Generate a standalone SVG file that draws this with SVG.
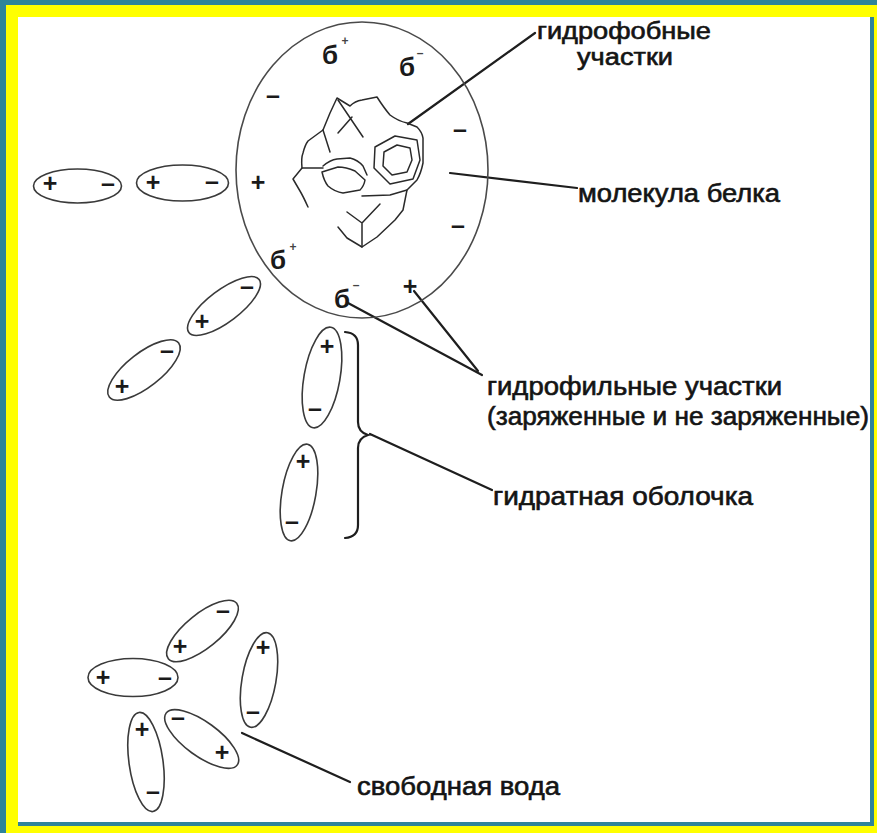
<svg xmlns="http://www.w3.org/2000/svg" width="877" height="833" viewBox="0 0 877 833">
  <style>
    .lbl { font-family: "Liberation Sans", Arial, sans-serif; font-size: 25px; fill: #141414; stroke: #141414; stroke-width: 0.6; }
    .sm { font-size: 23px; }
    .sg { font-family: "Liberation Sans", Arial, sans-serif; font-size: 25px; font-weight: bold; fill: #1a1a1a; text-anchor: middle; }
    .dl { font-family: "Liberation Sans", Arial, sans-serif; font-size: 26px; font-weight: bold; fill: #1a1a1a; text-anchor: middle; }
    .sup { font-family: "Liberation Sans", Arial, sans-serif; font-size: 12px; font-weight: bold; fill: #444; text-anchor: middle; }
    .dip { fill: none; stroke: #3a3a3a; stroke-width: 1.6; }
    .ln { fill: none; stroke: #1e1e1e; stroke-width: 2.2; stroke-linecap: round; }
    .prot { fill: none; stroke: #2a2a2a; stroke-width: 1.5; stroke-linejoin: round; stroke-linecap: round; }
  </style>

  <!-- frame -->
  <rect x="0" y="0" width="877" height="833" fill="#2e849a"/>
  <rect x="6" y="5" width="871" height="828" fill="#ffff00"/>
  <rect x="18" y="17" width="856" height="809" fill="#2e849a"/>
  <rect x="18" y="17" width="852" height="805" fill="#ffffff"/>

  <!-- connectors -->
  <g id="connectors">
    <line class="ln" x1="535" y1="33" x2="408" y2="124"/>
    <line class="ln" x1="450" y1="173" x2="577" y2="188"/>
    <line class="ln" x1="348" y1="303" x2="482" y2="375"/>
    <line class="ln" x1="414" y1="291" x2="478" y2="371"/>
    <line class="ln" x1="370" y1="434" x2="492" y2="490"/>
    <line class="ln" x1="242" y1="733" x2="350" y2="782"/>
  </g>

  <!-- protein molecule -->
  <g id="protein">
    <ellipse cx="362" cy="170" rx="126" ry="148" fill="none" stroke="#4a4a4a" stroke-width="1.6"/>
    <!-- folded chain -->
    <path class="prot" d="M308,207 Q303,196 300,191 L293,179 L302,168 Q301,158 303,153 Q305,145 308,141 L323,130 L330,113 L337,98 L350,106 Q355,101 362,100 L377,97 Q384,108 390,115 Q398,121 407,123 L417,127 Q422,132 423,138 L423,163 Q421,173 417,180 L407,190 L403,210 L395,220 L377,237 L362,247 L347,238 L338,227"/>
    <path class="prot" d="M338,100 L363,137 M352,117 L338,133 M323,130 L330,152 M302,168 L323,168"/>
    <path class="prot" d="M323,166 Q330,160 337,159 L350,158 Q358,160 363,166 L367,175"/>
    <path class="prot" d="M322,172 Q324,181 328,186 Q335,192 343,193 L360,190 Q364,186 365,180 L355,171 Q346,167 338,167 Z"/>
    <path class="prot" d="M375,147 L395,136 L417,140 L420,160 L413,179 L390,184 L374,168 Z"/>
    <path class="prot" d="M384,152 L397,145 L410,148 L412,160 L407,172 L392,175 L383,166 Z"/>
    <path class="prot" d="M407,190 L390,195 L362,196"/>
    <path class="prot" d="M347,212 L362,223 L380,204 M362,223 L362,247"/>
    <!-- surface charges -->
    <text class="dl" x="330" y="64">б</text><text class="sup" x="345" y="45">+</text>
    <text class="dl" x="407" y="76">б</text><text class="sup" x="420" y="57">–</text>
    <text class="dl" x="278" y="269">б</text><text class="sup" x="293" y="251">+</text>
    <text class="dl" x="342" y="308">б</text><text class="sup" x="356" y="289">–</text>
    <text class="sg" x="273" y="104">–</text>
    <text class="sg" x="460" y="138">–</text>
    <text class="sg" x="258" y="191">+</text>
    <text class="sg" x="458" y="234">–</text>
    <text class="sg" x="410" y="295">+</text>
  </g>

  <!-- oriented dipoles -->
  <g id="dipole-1">
    <ellipse class="dip" cx="77.5" cy="186" rx="44" ry="17"/>
    <text class="sg" x="50" y="192">+</text><text class="sg" x="108" y="192">–</text>
  </g>
  <g id="dipole-2">
    <ellipse class="dip" cx="182.5" cy="183" rx="46" ry="18"/>
    <text class="sg" x="153" y="191">+</text><text class="sg" x="212" y="190">–</text>
  </g>
  <g id="dipole-3">
    <ellipse class="dip" cx="224" cy="306" rx="44" ry="16" transform="rotate(-37 224 306)"/>
    <text class="sg" x="202" y="330">+</text><text class="sg" x="247" y="295">–</text>
  </g>
  <g id="dipole-4">
    <ellipse class="dip" cx="144" cy="370" rx="44" ry="17" transform="rotate(-38 144 370)"/>
    <text class="sg" x="122" y="395">+</text><text class="sg" x="167" y="359">–</text>
  </g>
  <g id="dipole-5">
    <ellipse class="dip" cx="322" cy="377.5" rx="18" ry="51" transform="rotate(10 322 377.5)"/>
    <text class="sg" x="327" y="355">+</text><text class="sg" x="315" y="417">–</text>
  </g>
  <g id="dipole-6">
    <ellipse class="dip" cx="299" cy="492.5" rx="17" ry="49" transform="rotate(10 299 492.5)"/>
    <text class="sg" x="303" y="470">+</text><text class="sg" x="292" y="530">–</text>
  </g>

  <!-- hydration shell brace -->
  <g id="brace">
    <path class="ln" d="M345,332 Q358,333 358,345 L358,422 Q358,432 368,435 Q358,438 358,448 L358,525 Q358,537 345,538" stroke-width="2"/>
  </g>

  <!-- free water -->
  <g id="free-1">
    <ellipse class="dip" cx="202.5" cy="631" rx="44" ry="17" transform="rotate(-39 202.5 631)"/>
    <text class="sg" x="180" y="655">+</text><text class="sg" x="223" y="619">–</text>
  </g>
  <g id="free-2">
    <ellipse class="dip" cx="133" cy="677.5" rx="45" ry="19"/>
    <text class="sg" x="103" y="686">+</text><text class="sg" x="165" y="686">–</text>
  </g>
  <g id="free-3">
    <ellipse class="dip" cx="259" cy="680" rx="17" ry="48" transform="rotate(10 259 680)"/>
    <text class="sg" x="263" y="656">+</text><text class="sg" x="253" y="720">–</text>
  </g>
  <g id="free-4">
    <ellipse class="dip" cx="201.7" cy="739" rx="44" ry="17" transform="rotate(36 201.7 739)"/>
    <text class="sg" x="178" y="726">–</text><text class="sg" x="222" y="761">+</text>
  </g>
  <g id="free-5">
    <ellipse class="dip" cx="146" cy="762" rx="17" ry="50" transform="rotate(-8 146 762)"/>
    <text class="sg" x="142" y="738">+</text><text class="sg" x="153" y="800">–</text>
  </g>

  <!-- labels -->
  <g id="label-hydrophobic">
    <text class="lbl sm" x="537" y="39" textLength="174" lengthAdjust="spacingAndGlyphs">гидрофобные</text>
    <text class="lbl sm" x="577" y="65" textLength="96" lengthAdjust="spacingAndGlyphs">участки</text>
  </g>
  <g id="label-protein">
    <text class="lbl" x="578" y="202" textLength="202" lengthAdjust="spacingAndGlyphs">молекула белка</text>
  </g>
  <g id="label-hydrophilic">
    <text class="lbl" x="487" y="395" textLength="295" lengthAdjust="spacingAndGlyphs">гидрофильные участки</text>
    <text class="lbl" x="487" y="425" textLength="382" lengthAdjust="spacingAndGlyphs">(заряженные и не заряженные)</text>
  </g>
  <g id="label-shell">
    <text class="lbl" x="493" y="505" textLength="260" lengthAdjust="spacingAndGlyphs">гидратная оболочка</text>
  </g>
  <g id="label-free">
    <text class="lbl" x="357" y="795" textLength="203" lengthAdjust="spacingAndGlyphs">свободная вода</text>
  </g>
</svg>
